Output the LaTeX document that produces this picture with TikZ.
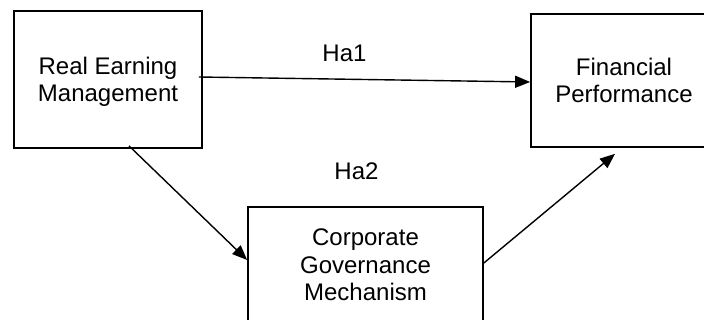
\documentclass[tikz,border=0pt]{standalone}
\usepackage{fontspec}
\setmainfont{Liberation Sans}
\usetikzlibrary{arrows.meta}
\tikzstyle{box}=[rectangle,draw=black,line width=1.7pt,align=center,
  inner sep=0pt,text depth=0pt,font=\fontsize{24}{27.5}\selectfont]
\tikzstyle{lbl}=[anchor=base,inner sep=0pt,font=\fontsize{24}{27.5}\selectfont]
\tikzstyle{arr}=[line width=1.4pt,-{Triangle[length=15pt,width=12pt]}]
\tikzstyle{none}=[]

\begin{document}
\begin{tikzpicture}[x=1pt,y=-1pt]
            \useasboundingbox (0,0) rectangle (704,320);
            \node [style=box,minimum width=188pt,minimum height=137pt] (0) at (108, 79.5) {Real Earning\\Management};
            \node [style=box,minimum width=186pt,minimum height=133pt] (1) at (624, 80.5) {Financial\\Performance};
            \node [style=box,minimum width=235pt,minimum height=116pt] (2) at (365.5, 265) {Corporate\\Governance\\Mechanism};
            \node [style=lbl] (3) at (344.5, 62) {Ha1};
            \node [style=lbl] (4) at (356.5, 180) {Ha2};
            \draw [style=arr] ([shift={(-4pt,2.5pt)}]0.east) to ([yshift=-1.5pt]1.west);
            \draw [style=arr] ([shift={(21pt,3pt)}]0.south) to ([yshift=5pt]2.west);
            \draw [style=arr] ([yshift=2pt]2.east) to ([shift={(-9pt,-6pt)}]1.south);
    \end{tikzpicture}
\end{document}
